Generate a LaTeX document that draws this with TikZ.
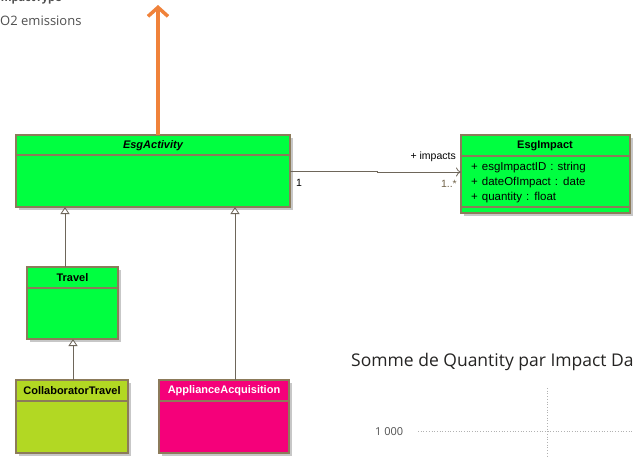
\documentclass[tikz,border=0pt]{standalone}
\usepackage{fontspec}
\setmainfont{Liberation Sans}
\newfontfamily\pbifont{Open Sans}
\usetikzlibrary{arrows.meta}
\definecolor{umlgreen}{HTML}{00FF40}
\definecolor{umlolive}{HTML}{B2D823}
\definecolor{umlpink}{HTML}{F5007A}
\definecolor{umlborder}{HTML}{8C7B5A}
\definecolor{umlline}{HTML}{6E665A}
\definecolor{orangearrow}{HTML}{F0823A}
\definecolor{pbitext}{HTML}{505050}
\definecolor{pbititle}{HTML}{252423}
\newcommand\myattrfont{\fontsize{11.5}{12}\selectfont\spaceskip=4pt\relax}
\tikzset{
  classbox/.style={draw=umlborder, line width=1.3pt},
  shadowbox/.style={fill=black!22, draw=none},
  sepline/.style={draw=umlborder, line width=1.3pt},
  ctitle/.style={font=\fontsize{11}{12}\selectfont\bfseries, inner sep=0pt},
  cattr/.style={font=\myattrfont, inner sep=0pt, anchor=west},
  gen/.style={draw=umlline, line width=0.8pt, -{Triangle[open, width=9pt, length=7pt]}},
  assoc/.style={draw=umlline, line width=0.8pt, -{To[width=9pt,length=5pt]}},
  mult/.style={font=\fontsize{10.5}{11}\selectfont, inner sep=0pt},
  grid/.style={draw=black!30, line width=0.7pt, dotted},
}
\begin{document}
\begin{tikzpicture}[x=1pt,y=-1pt]
\clip (0,0) rectangle (633,456);
\fill[white] (0,0) rectangle (633,456);
\useasboundingbox (0,0) rectangle (633,456);

% Power BI texts
\node[font=\pbifont\fontsize{11}{12}\selectfont\bfseries, text=pbitext, anchor=west, inner sep=0pt] (itype) at (-3,-1) {ImpactType};
\node[font=\pbifont\fontsize{13}{14}\selectfont, text=pbitext, anchor=west, inner sep=0pt] (o2) at (0,21) {O2 emissions};
\node[font=\pbifont\fontsize{17.5}{19}\selectfont, text=pbititle, anchor=west, inner sep=0pt] (ptitle) at (351,362) {Somme de Quantity par Impact Da};
\node[font=\pbifont\fontsize{11}{12}\selectfont, text=pbitext, anchor=west, inner sep=0pt] (ylab) at (375,432) {1 000};
\coordinate (g1) at (418,431);
\coordinate (g2) at (633,431);
\coordinate (g3) at (547,388);
\coordinate (g4) at (547,456);
\draw[grid] (g1) -- (g2);
\draw[grid] (g3) -- (g4);

% EsgActivity
\fill[shadowbox] (19,138) rectangle (293,210);
\fill[umlgreen] (16,135) rectangle (290,207);
\draw[sepline] (16,155) -- (290,155);
\draw[classbox] (16,135) rectangle (290,207);
\node[ctitle, font=\fontsize{11}{12}\selectfont\bfseries\itshape] (act) at (153,145.5) {EsgActivity};
\coordinate (actN) at (158,135);
\coordinate (actR) at (290,171);
\coordinate (actB1) at (65,207);
\coordinate (actB2) at (235,207);

% orange arrow
\coordinate (otop) at (158,5);
\draw[orangearrow, line width=4pt, -{Straight Barb[length=9pt,width=20pt,line width=3.5pt]}] (actN) -- (otop);

% EsgImpact
\fill[shadowbox] (464,138) rectangle (633,216);
\fill[umlgreen] (461,135) rectangle (630,213);
\draw[sepline] (461,156) -- (630,156);
\draw[sepline] (461,207) -- (630,207);
\draw[classbox] (461,135) rectangle (630,213);
\node[ctitle] (imp) at (545,145.5) {EsgImpact};
\node[cattr] (a1) at (471,168) {+ esgImpactID : string};
\node[cattr] (a2) at (471,183) {+ dateOfImpact : date};
\node[cattr] (a3) at (471,198) {+ quantity : float};
\coordinate (impL) at (461,172);

% association
\draw[assoc] (actR) -- (377,171) -- (377,172) -- (impL);
\node[mult, anchor=east] (rolelbl) at (456,157) {+ impacts};
\node[mult, anchor=west] (m1) at (296,183) {1};
\node[mult, anchor=east, text=umlborder!80!black] (m2) at (457,184) {1..*};

% Travel
\fill[shadowbox] (30,270) rectangle (121,342);
\fill[umlgreen] (27,267) rectangle (118,339);
\draw[sepline] (27,288) -- (118,288);
\draw[classbox] (27,267) rectangle (118,339);
\node[ctitle] (trav) at (72.5,277.5) {Travel};
\coordinate (travT) at (65,267);
\coordinate (travB) at (73,339);

% CollaboratorTravel
\fill[shadowbox] (19,383) rectangle (131,456);
\fill[umlolive] (16,380) rectangle (128,453);
\draw[sepline] (16,401) -- (128,401);
\draw[classbox] (16,380) rectangle (128,453);
\node[ctitle] (collab) at (72,390.5) {CollaboratorTravel};
\coordinate (collT) at (73,380);

% ApplianceAcquisition
\fill[shadowbox] (162,383) rectangle (292,456);
\fill[umlpink] (159,380) rectangle (289,453);
\draw[sepline] (159,401) -- (289,401);
\draw[classbox] (159,380) rectangle (289,453);
\node[ctitle, text=white] (appl) at (224,390.5) {ApplianceAcquisition};
\coordinate (applT) at (235,380);

% generalizations
\draw[gen] (travT) -- (actB1);
\draw[gen] (applT) -- (actB2);
\draw[gen] (collT) -- (travB);
\end{tikzpicture}
\end{document}
